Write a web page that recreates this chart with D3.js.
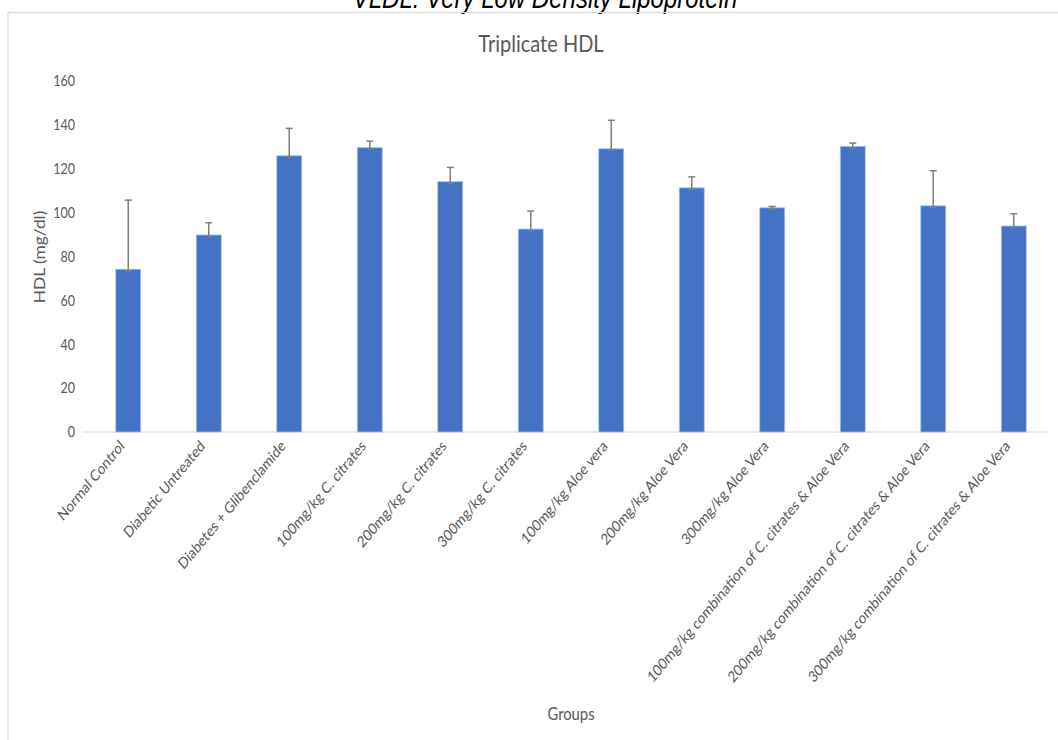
<!DOCTYPE html>
<html>
<head>
<meta charset="utf-8">
<script src="https://cdn.jsdelivr.net/npm/d3@7"></script>
<style>
  html, body { margin: 0; padding: 0; background: #fff; }
  svg { display: block; }
</style>
</head>
<body>
<svg id="chart" width="1058" height="740"></svg>
<script>
const categories = [
  "Normal Control",
  "Diabetic  Untreated",
  "Diabetes + Glibenclamide",
  "100mg/kg C. citrates",
  "200mg/kg C. citrates",
  "300mg/kg C. citrates",
  "100mg/kg Aloe vera",
  "200mg/kg Aloe Vera",
  "300mg/kg Aloe Vera",
  "100mg/kg combination of C. citrates & Aloe Vera",
  "200mg/kg combination of C. citrates & Aloe Vera",
  "300mg/kg combination of C. citrates & Aloe Vera"
];
const hdlMeans = [74.2, 89.8, 125.9, 129.6, 114.1, 92.5, 129.1, 111.3, 102.2, 130.2, 103.1, 93.9];
const hdlErrors = [31.5, 5.6, 12.5, 3.0, 6.5, 8.2, 13.0, 5.0, 0.6, 1.5, 16.0, 5.6];
const yTicks = [0, 20, 40, 60, 80, 100, 120, 140, 160];

const svg = d3.select("#chart");
const font = "Lato, 'Open Sans', sans-serif";
const grey = "#595959";
const vs = 1.2; // vertical stretch of the original picture

// top caption (clipped by page top)
svg.append("text")
  .attr("transform", `translate(545,8) scale(1,${vs})`)
  .attr("text-anchor", "middle")
  .attr("font-family", "Arial, 'Liberation Sans', sans-serif")
  .attr("font-style", "italic")
  .attr("font-size", 24)
  .attr("fill", "#000")
  .text("VLDL: Very Low Density Lipoprotein");

// chart frame
svg.append("rect")
  .attr("x", 8).attr("y", 12.5)
  .attr("width", 1070).attr("height", 760)
  .attr("fill", "none")
  .attr("stroke", "#d9d9d9")
  .attr("stroke-width", 1.2);

const x = d3.scaleBand().domain(categories).range([88, 1054]).paddingInner(0.69).paddingOuter(0.345);
const y = d3.scaleLinear().domain([0, 160]).range([432, 81]);

// title
svg.append("text")
  .attr("transform", `translate(541,52) scale(1,${vs})`)
  .attr("text-anchor", "middle")
  .attr("font-family", font)
  .attr("font-size", 20)
  .attr("fill", grey)
  .text("Triplicate HDL");

// y axis
const yAxis = d3.axisLeft(y).tickValues(yTicks).tickSize(0).tickPadding(0);
const yg = svg.append("g").attr("transform", "translate(75,0)").call(yAxis);
yg.select(".domain").remove();
yg.selectAll("text")
  .attr("font-family", font).attr("font-size", 12.5).attr("fill", grey)
  .attr("transform", `scale(1,${vs})`);

// baseline
svg.append("line")
  .attr("x1", 82).attr("x2", 1050)
  .attr("y1", y(0)).attr("y2", y(0))
  .attr("stroke", "#d9d9d9").attr("stroke-width", 1);

// bars
svg.append("g").selectAll("rect")
  .data(categories)
  .join("rect")
  .attr("x", d => x(d))
  .attr("y", (d, i) => y(hdlMeans[i]))
  .attr("width", x.bandwidth())
  .attr("height", (d, i) => y(0) - y(hdlMeans[i]))
  .attr("fill", "#4472c4")
  .attr("stroke", "#a9bfe8")
  .attr("stroke-width", 0.8);

// error bars
const eb = svg.append("g").attr("stroke", "#7f7f7f").attr("stroke-width", 1.5);
categories.forEach((d, i) => {
  const cx = x(d) + x.bandwidth() / 2;
  const top = y(hdlMeans[i] + hdlErrors[i]);
  const bot = y(hdlMeans[i]);
  eb.append("line").attr("x1", cx).attr("x2", cx).attr("y1", top).attr("y2", bot + 1.5);
  eb.append("line").attr("x1", cx - 3.5).attr("x2", cx + 3.5).attr("y1", top).attr("y2", top);
  eb.append("line").attr("x1", cx - 3.5).attr("x2", cx + 3.5).attr("y1", bot + 1.5).attr("y2", bot + 1.5);
});

// x axis labels
const xAxis = d3.axisBottom(x).tickSize(0).tickPadding(0);
const xg = svg.append("g").attr("transform", `translate(0,${y(0)})`).call(xAxis);
xg.select(".domain").remove();
xg.selectAll("text")
  .attr("font-family", font).attr("font-size", 13).attr("fill", grey)
  .attr("text-anchor", "end")
  .attr("y", 0)
  .attr("dy", null)
  .attr("transform", `translate(-3,15) scale(1,${vs}) rotate(-45)`);

// axis titles
svg.append("text")
  .attr("transform", `translate(45,257) scale(1,${vs}) rotate(-90)`)
  .attr("text-anchor", "middle")
  .attr("font-family", font).attr("font-size", 14.5).attr("fill", grey)
  .text("HDL (mg/dl)");

svg.append("text")
  .attr("transform", `translate(571,720) scale(1,${vs})`)
  .attr("text-anchor", "middle")
  .attr("font-family", font).attr("font-size", 14.8).attr("fill", grey)
  .text("Groups");
</script>
</body>
</html>
